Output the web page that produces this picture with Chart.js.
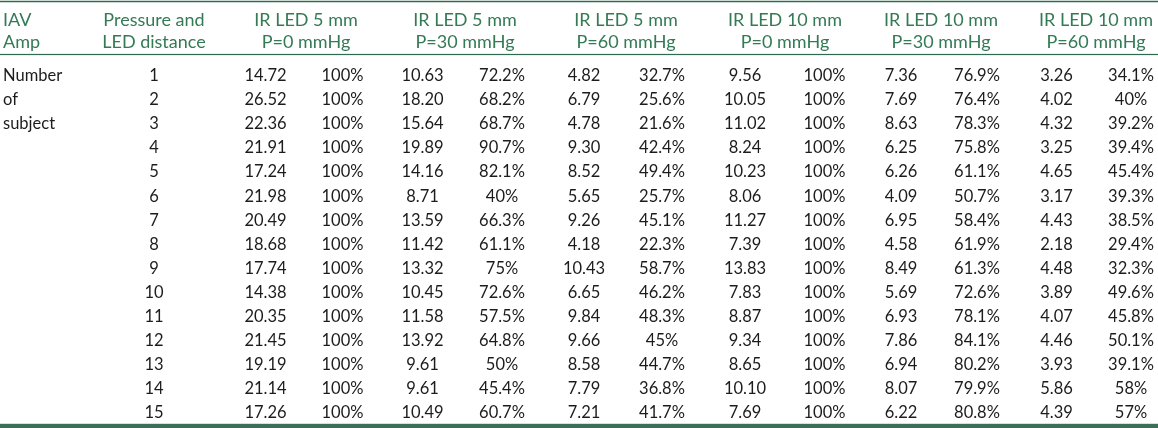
<!DOCTYPE html>
<html>
<head>
<meta charset="utf-8">
<script src="https://cdn.jsdelivr.net/npm/chart.js@4"></script>
<style>
  html, body { margin: 0; padding: 0; background: #fff; }
  #wrap { width: 1158px; height: 428px; }
</style>
</head>
<body>
<div id="wrap"><canvas id="myChart" width="1158" height="428"></canvas></div>
<script>
const ctx = document.getElementById('myChart');

// table values
const subjects = [1, 2, 3, 4, 5, 6, 7, 8, 9, 10, 11, 12, 13, 14, 15];
const led5p0 = [14.72, 26.52, 22.36, 21.91, 17.24, 21.98, 20.49, 18.68, 17.74, 14.38, 20.35, 21.45, 19.19, 21.14, 17.26];
const led5p0Pct = [100, 100, 100, 100, 100, 100, 100, 100, 100, 100, 100, 100, 100, 100, 100];
const led5p30 = [10.63, 18.20, 15.64, 19.89, 14.16, 8.71, 13.59, 11.42, 13.32, 10.45, 11.58, 13.92, 9.61, 9.61, 10.49];
const led5p30Pct = [72.2, 68.2, 68.7, 90.7, 82.1, 40, 66.3, 61.1, 75, 72.6, 57.5, 64.8, 50, 45.4, 60.7];
const led5p60 = [4.82, 6.79, 4.78, 9.30, 8.52, 5.65, 9.26, 4.18, 10.43, 6.65, 9.84, 9.66, 8.58, 7.79, 7.21];
const led5p60Pct = [32.7, 25.6, 21.6, 42.4, 49.4, 25.7, 45.1, 22.3, 58.7, 46.2, 48.3, 45, 44.7, 36.8, 41.7];
const led10p0 = [9.56, 10.05, 11.02, 8.24, 10.23, 8.06, 11.27, 7.39, 13.83, 7.83, 8.87, 9.34, 8.65, 10.10, 7.69];
const led10p0Pct = [100, 100, 100, 100, 100, 100, 100, 100, 100, 100, 100, 100, 100, 100, 100];
const led10p30 = [7.36, 7.69, 8.63, 6.25, 6.26, 4.09, 6.95, 4.58, 8.49, 5.69, 6.93, 7.86, 6.94, 8.07, 6.22];
const led10p30Pct = [76.9, 76.4, 78.3, 75.8, 61.1, 50.7, 58.4, 61.9, 61.3, 72.6, 78.1, 84.1, 80.2, 79.9, 80.8];
const led10p60 = [3.26, 4.02, 4.32, 3.25, 4.65, 3.17, 4.43, 2.18, 4.48, 3.89, 4.07, 4.46, 3.93, 5.86, 4.39];
const led10p60Pct = [34.1, 40, 39.2, 39.4, 45.4, 39.3, 38.5, 29.4, 32.3, 49.6, 45.8, 50.1, 39.1, 58, 57];

const headerTop = ['IAV', 'Pressure and', 'IR LED 5 mm', 'IR LED 5 mm', 'IR LED 5 mm', 'IR LED 10 mm', 'IR LED 10 mm', 'IR LED 10 mm'];
const headerBottom = ['Amp', 'LED distance', 'P=0 mmHg', 'P=30 mmHg', 'P=60 mmHg', 'P=0 mmHg', 'P=30 mmHg', 'P=60 mmHg'];
const sideLabel = ['Number', 'of', 'subject'];

// layout (x scale units = px, y scale units = table rows)
const headerX = [3, 154, 306, 465, 626, 785, 941, 1096];
const subjectX = 154;
const valueX = [265.5, 422.5, 584, 745, 901, 1056.5];
const pctX = [342.5, 502, 662, 824.5, 977, 1131];
const headRows = [-1.319, -0.377];
const rules = { top: -2.058, mid: 0.141, bottom: 15.556 };

const green = '#337a55';
const ruleColor = '#2f6a50';
const textColor = '#1e1b1c';

const valueCols = [led5p0, led5p30, led5p60, led10p0, led10p30, led10p60];
const pctCols = [led5p0Pct, led5p30Pct, led5p60Pct, led10p0Pct, led10p30Pct, led10p60Pct];

let datasets = [];
function addCol(xPos, texts, kind) {
    datasets.push({
        label: kind,
        kind: kind,
        texts: texts,
        data: texts.map((t, i) => ({ x: xPos, y: i + 1 })),
        pointRadius: 0,
        showLine: false
    });
}
addCol(subjectX, subjects.map(String), 'center');
addCol(headerX[0], sideLabel, 'left');
valueCols.forEach((col, i) => addCol(valueX[i], col.map(v => v.toFixed(2)), 'center'));
pctCols.forEach((col, i) => addCol(pctX[i], col.map(v => v + '%'), 'center'));

const tablePlugin = {
    id: 'tableText',
    afterDatasetsDraw(chart) {
        const c = chart.ctx;
        const xs = chart.scales.x;
        const ys = chart.scales.y;
        const left = chart.chartArea.left;
        const right = chart.chartArea.right;
        c.save();

        // rules
        c.fillStyle = ruleColor;
        let y = ys.getPixelForValue(rules.top);
        c.fillRect(left, y - 0.75, right - left, 1.5);
        y = ys.getPixelForValue(rules.mid);
        c.fillRect(left, y - 0.6, right - left, 1.2);
        c.fillStyle = '#3b6f58';
        y = ys.getPixelForValue(rules.bottom);
        c.fillRect(left, y - 2.2, right - left, 5);

        // header
        c.fillStyle = green;
        c.font = '18px Lato';
        c.textBaseline = 'alphabetic';
        [headerTop, headerBottom].forEach((line, r) => {
            const py = ys.getPixelForValue(headRows[r]) + 6.4;
            line.forEach((t, i) => {
                c.textAlign = i == 0 ? 'left' : 'center';
                c.fillText(t, xs.getPixelForValue(headerX[i]), py);
            });
        });

        // body cells
        c.fillStyle = textColor;
        c.font = '16.5px Lato';
        chart.data.datasets.forEach((ds, di) => {
            const meta = chart.getDatasetMeta(di);
            c.textAlign = ds.kind;
            meta.data.forEach((pt, i) => {
                c.fillText(ds.texts[i], pt.x, pt.y + 5.9);
            });
        });
        c.restore();
    }
};

new Chart(ctx, {
    type: 'scatter',
    data: { datasets: datasets },
    options: {
        responsive: false,
        animation: false,
        devicePixelRatio: 1,
        layout: { padding: 0 },
        plugins: {
            legend: { display: false },
            tooltip: { enabled: false }
        },
        scales: {
            x: { type: 'linear', min: 0, max: 1158, display: false },
            y: { type: 'linear', min: -2.120, max: 15.639, reverse: true, display: false }
        }
    },
    plugins: [tablePlugin]
});
</script>
</body>
</html>
